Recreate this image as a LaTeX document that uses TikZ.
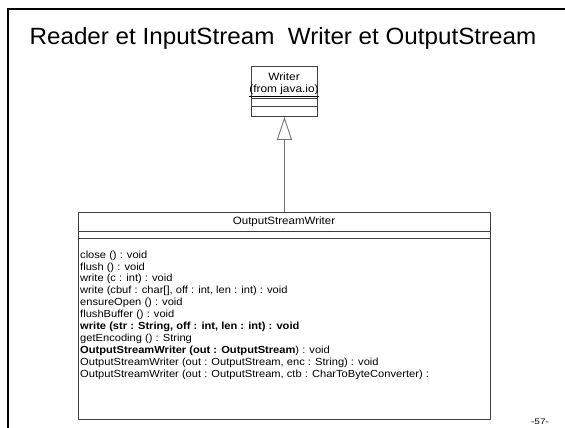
\documentclass[tikz,border=0pt]{standalone}
\usepackage{fontspec}
\setmainfont{Liberation Sans}
\usetikzlibrary{arrows.meta}
\begin{document}
\begin{tikzpicture}[x=1pt,y=-1pt,
  classbox/.style={draw=black!75, line width=0.9pt, inner sep=0pt},
  divider/.style={draw=black!75, line width=0.9pt},
  small/.style={font=\fontsize{10.6}{12}\selectfont, inner sep=0pt, xscale=1.12},
  inherit/.style={draw=black!55, line width=1pt, -{Triangle[open, length=23pt, width=15pt, line width=0.9pt]}}]
\useasboundingbox (0,0) rectangle (565,428);
% slide frame
\draw[line width=2.5pt] (8,430) -- (8,9) -- (567,9);
\node[font=\fontsize{23.5}{27}\selectfont, inner sep=0pt, xscale=1.03] (title) at (283,38) {Reader et InputStream\ \ Writer et OutputStream};
% Writer class
\node[classbox, minimum width=66pt, minimum height=50pt, anchor=north west] (writer) at (251,66) {};
\node[small] (wname) at (284,77) {Writer};
\node[small] (wfrom) at (284,91) {\underline{(from java.io)}};
\draw[divider] (251,98) -- (317,98);
\draw[divider] (251,106) -- (317,106);
% OutputStreamWriter class
\node[small, xscale=0.97] (oswname) at (284,222) {OutputStreamWriter};
\node[classbox, minimum width=412pt, minimum height=207pt, anchor=north west] (osw) at (78,212) {};
\draw[divider] (78,231) -- (490,231);
\draw[divider] (78,238) -- (490,238);
\node[font=\fontsize{10.3}{11.9}\selectfont, inner sep=0pt, anchor=north west, align=left, xscale=1.08] (ops) at (80,250.5) {%
close () : void\\
flush () : void\\
write (c : int) : void\\
write (cbuf : char[], off : int, len : int) : void\\
ensureOpen () : void\\
flushBuffer () : void\\
\textbf{write (str : String, off : int, len : int) : void}\\
getEncoding () : String\\
\textbf{OutputStreamWriter (out : OutputStream}) : void\\
OutputStreamWriter (out : OutputStream, enc : String) : void\\
OutputStreamWriter (out : OutputStream, ctb : CharToByteConverter) :};
% inheritance
\draw[inherit] (osw.north) -- (writer.south);
\node[font=\fontsize{8}{9}\selectfont, inner sep=0pt, xscale=1.25] (page) at (540,422) {-57-};
\end{tikzpicture}
\end{document}
